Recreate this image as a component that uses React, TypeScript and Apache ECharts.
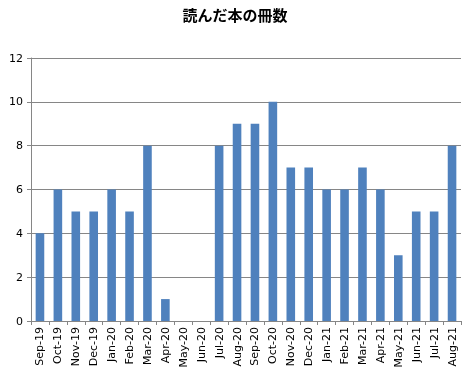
import React, { useEffect, useRef } from "react";
import * as echarts from "echarts";

const categories = ["Sep-19","Oct-19","Nov-19","Dec-19","Jan-20","Feb-20","Mar-20","Apr-20","May-20","Jun-20","Jul-20","Aug-20","Sep-20","Oct-20","Nov-20","Dec-20","Jan-21","Feb-21","Mar-21","Apr-21","May-21","Jun-21","Jul-21","Aug-21"];
const booksRead = [4,6,5,5,6,5,8,1,0,0,8,9,9,10,7,7,6,6,7,6,3,5,5,8];
const titleText = "読んだ本の冊数";

export default function App() {
  const ref = useRef<HTMLDivElement>(null);
  useEffect(() => {
    if (!ref.current) return;
    const chart = echarts.init(ref.current, null, { renderer: "svg" });
    chart.setOption({
      animation: false,
      title: {
        text: titleText,
        left: "center",
        top: 2,
        textStyle: { fontFamily: "Noto Sans CJK JP", fontSize: 15, fontWeight: "bold", color: "#000" },
      },
      grid: { left: 31, right: 9, top: 58, bottom: 56, containLabel: false },
      xAxis: {
        type: "category",
        data: categories,
        axisLine: { lineStyle: { color: "#868686" } },
        axisTick: { show: true, alignWithLabel: false, length: 4, lineStyle: { color: "#868686" } },
        axisLabel: { rotate: 90, interval: 0, fontFamily: "DejaVu Sans", fontSize: 11, color: "#000", margin: 6 },
      },
      yAxis: {
        type: "value",
        min: 0,
        max: 12,
        interval: 2,
        axisLine: { show: true, lineStyle: { color: "#868686" } },
        axisTick: { show: true, length: 4, lineStyle: { color: "#868686" } },
        splitLine: { lineStyle: { color: "#868686" } },
        axisLabel: { fontFamily: "DejaVu Sans", fontSize: 11, color: "#000", margin: 8 },
      },
      series: [
        {
          type: "bar",
          data: booksRead,
          barWidth: "48%",
          itemStyle: { color: "#4F81BD" },
        },
      ],
    });
    return () => chart.dispose();
  }, []);
  return <div ref={ref} style={{ position: "fixed", left: 0, top: 0, width: 470, height: 377 }} />;
}
